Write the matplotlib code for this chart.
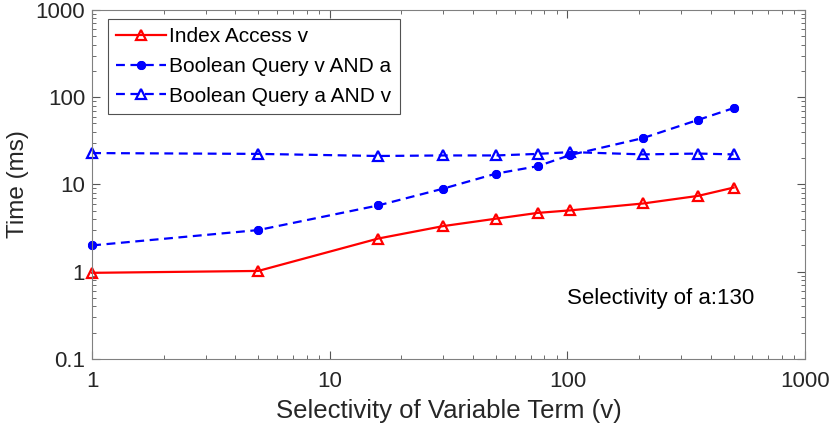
import matplotlib
matplotlib.use("Agg")
import matplotlib.pyplot as plt
from matplotlib.ticker import LogLocator, NullFormatter

plt.rcParams['font.family'] = ['Liberation Sans', 'DejaVu Sans']

x_vals = [1, 5, 16, 30, 50, 75, 103, 208, 355, 500]
index_access = [0.97, 1.02, 2.4, 3.33, 4.05, 4.72, 5.05, 6.05, 7.4, 9.2]
bool_v_and_a = [2.0, 3.0, 5.75, 8.95, 13.3, 16.2, 21.8, 34.0, 55.0, 75.0]
bool_a_and_v = [22.9, 22.4, 21.2, 21.5, 21.5, 22.4, 23.5, 22.1, 22.6, 22.1]

labels = ['Index Access v', 'Boolean Query v AND a', 'Boolean Query a AND v']
annotation = 'Selectivity of a:130'
xlabel = 'Selectivity of Variable Term (v)'
ylabel = 'Time (ms)'
xticks = [1, 10, 100, 1000]
xticklabels = ['1', '10', '100', '1000']
yticks = [0.1, 1, 10, 100, 1000]
yticklabels = ['0.1', '1', '10', '100', '1000']

fig = plt.figure(figsize=(8.3, 4.34), dpi=100)
ax = fig.add_axes([0.111, 0.173, 0.859, 0.804])

red = '#ff0000'
blue = '#0000ff'
dash = (0, (4, 2.5))

ax.plot(x_vals, index_access, color=red, lw=1.6, marker='^', ms=7.5,
        mfc='none', mew=1.6, label=labels[0], clip_on=False)
ax.plot(x_vals, bool_v_and_a, color=blue, lw=1.6, ls=dash, marker=(8, 2, 0), ms=6.5,
        mew=2.0, label=labels[1], clip_on=False)
ax.plot(x_vals, bool_a_and_v, color=blue, lw=1.6, ls=dash, marker='^', ms=7.5,
        mfc='none', mew=1.6, label=labels[2], clip_on=False)

ax.set_xscale('log')
ax.set_yscale('log')
ax.set_xlim(1, 1000)
ax.set_ylim(0.1, 1000)
ax.set_xticks(xticks)
ax.set_xticklabels(xticklabels)
ax.set_yticks(yticks)
ax.set_yticklabels(yticklabels)
ax.xaxis.set_minor_locator(LogLocator(base=10, subs=range(2, 10)))
ax.yaxis.set_minor_locator(LogLocator(base=10, subs=range(2, 10)))
ax.xaxis.set_minor_formatter(NullFormatter())
ax.yaxis.set_minor_formatter(NullFormatter())

gray = '#262626'
for s in ax.spines.values():
    s.set_color('#808080')
    s.set_linewidth(0.8)
ax.tick_params(which='both', direction='in', top=True, right=True, colors='#555555',
               labelcolor=gray, labelsize=16)
ax.tick_params(which='major', length=6, width=0.8)
ax.tick_params(axis='x', which='major', pad=9)
ax.tick_params(axis='y', which='major', pad=5)
ax.tick_params(which='minor', length=3, width=0.6)

ax.set_xlabel(xlabel, fontsize=18.5, color=gray, labelpad=5)
ax.set_ylabel(ylabel, fontsize=17.5, color=gray, labelpad=5)

ax.text(0.797, 0.172, annotation, transform=ax.transAxes, fontsize=16,
        color='black', ha='center', va='center')

leg = ax.legend(loc='upper left', bbox_to_anchor=(0.022, 0.975), fontsize=15,
                frameon=True, fancybox=False, edgecolor='#262626',
                handlelength=2.4, borderpad=0.4, labelspacing=0.52,
                handletextpad=0.15, borderaxespad=0)
leg.get_frame().set_linewidth(0.8)

fig.savefig('out.png', dpi=100)
